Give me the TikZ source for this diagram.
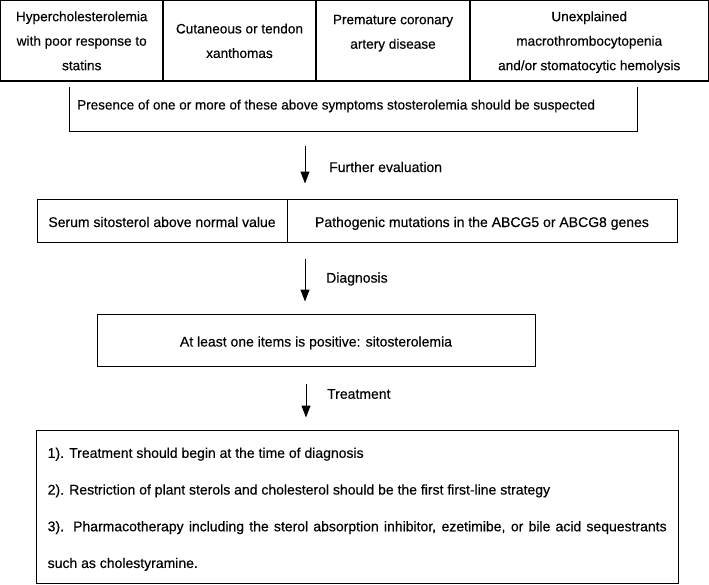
\documentclass[tikz,border=0pt]{standalone}
\usepackage{fontspec}
\setmainfont{Liberation Sans}[RawFeature={embolden=0.35}]
\usetikzlibrary{arrows.meta}
\setlength{\parindent}{0pt}
\begin{document}
\begin{tikzpicture}[x=1pt,y=-1pt,
  topbox/.style={draw, line width=1.2pt, inner sep=0pt, minimum height=80.5pt, align=center, font=\fontsize{13.6}{24.5}\selectfont},
  box/.style={draw, line width=1pt, inner sep=0pt, align=center, font=\fontsize{14}{17}\selectfont},
  onebox/.style={box, text height=14.5pt, text depth=1.5pt},
  lbl/.style={anchor=west, inner sep=0pt, font=\fontsize{14}{17}\selectfont},
  arr/.style={-{Triangle[width=9pt,length=12pt]}, line width=1pt}]
\useasboundingbox (0,0) rectangle (709,584);
% top row
\node[topbox, minimum width=162.5pt, text depth=-7pt] (t1) at (81.75,40.75) {Hypercholesterolemia\\with poor response to\\statins};
\node[topbox, minimum width=153pt, text depth=-3pt] (t2) at (239.5,40.75) {Cutaneous or tendon\\xanthomas};
\node[topbox, minimum width=154pt, text depth=18pt] (t3) at (393,40.75) {Premature coronary\\artery disease};
\node[topbox, minimum width=238.5pt, text depth=-4pt] (t4) at (589.25,40.75) {Unexplained\\macrothrombocytopenia\\and/or stomatocytic hemolysis};
% presence frame
\node[draw=none, minimum width=567pt, minimum height=44pt, inner sep=0pt] (pres) at (353.5,109) {};
\draw[line width=1pt] (pres.north west) |- (pres.south east) -- (pres.north east);
\node[lbl, font=\fontsize{13.5}{16}\selectfont] (prestext) at (77,106) {Presence of one or more of these above symptoms stosterolemia should be suspected};
% row 2
\node[onebox, minimum width=250pt, minimum height=43pt] (s1) at (162,220.5) {Serum sitosterol above normal value};
\node[onebox, minimum width=390pt, minimum height=43pt] (s2) at (482,220.5) {Pathogenic mutations in the ABCG5 or ABCG8 genes};
% diagnosis
\node[onebox, minimum width=438pt, minimum height=52pt] (diag) at (316,340) {At least one items is positive: sitosterolemia};
% treatment frame and text
\node[draw, line width=1pt, minimum width=642pt, minimum height=153pt, inner sep=0pt] (treat) at (357,506.5) {};
\node[anchor=north west, inner sep=0pt, text width=619pt, align=justify, font=\fontsize{14}{36.7}\selectfont] (treattext) at (47.5,447.5) {1). Treatment should begin at the time of diagnosis\par
2). Restriction of plant sterols and cholesterol should be the first first-line strategy\par
3). Pharmacotherapy including the sterol absorption inhibitor, ezetimibe, or bile acid sequestrants\linebreak such as cholestyramine.};
% arrows
\coordinate (ax) at (305,0);
\coordinate (ax3) at (306,0);
\draw[arr, shorten <=15pt, shorten >=15pt] (pres.south -| ax) -- (s1.north -| ax);
\draw[arr, shorten <=16pt, shorten >=12pt] (s1.south -| ax) -- (diag.north -| ax);
\draw[arr, shorten <=17pt, shorten >=12pt] (diag.south -| ax3) -- (treat.north -| ax3);
% labels
\node[lbl] (l1) at (329,167) {Further evaluation};
\node[lbl] (l2) at (326,279) {Diagnosis};
\node[lbl] (l3) at (327,394) {Treatment};
\end{tikzpicture}
\end{document}
